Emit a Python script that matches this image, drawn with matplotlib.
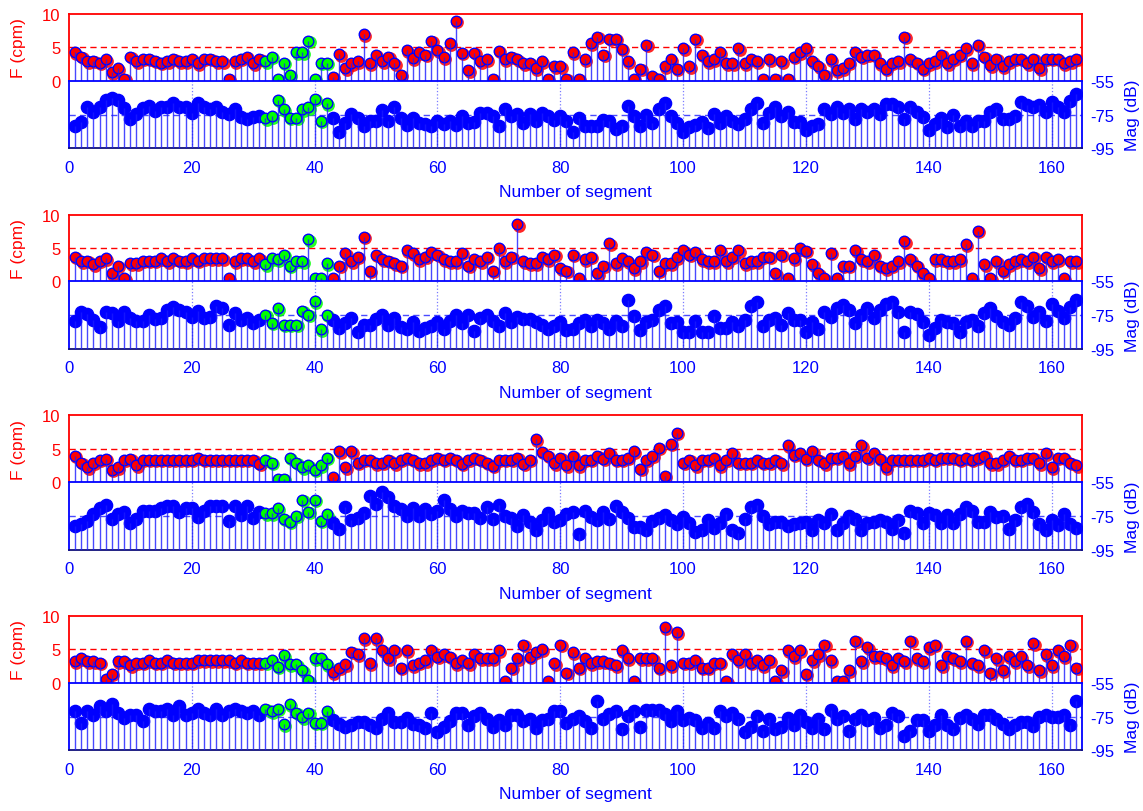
import numpy as np
import matplotlib.pyplot as plt
from matplotlib.transforms import offset_copy

plt.rcParams['font.family'] = ['Liberation Sans', 'DejaVu Sans']
plt.rcParams['axes.unicode_minus'] = False

seg = np.arange(1, 165)
green_from, green_to = 32, 42          # segments shown in green

f_ticks = [0, 5, 10]
mag_ticks = [-95, -75, -55]
seg_ticks = list(range(0, 161, 20))

# dominant frequency (cpm) and magnitude (dB) per segment, one pair per recording
f1 = [4.3, 3.6, 2.9, 3.0, 2.7, 3.2, 1.3, 1.9, 0.3, 3.6,
      2.9, 3.3, 3.3, 3.0, 2.7, 2.9, 3.3, 2.9, 2.9, 3.3,
      2.6, 3.3, 3.3, 2.9, 2.9, 0.3, 2.9, 3.3, 3.6, 2.6,
      3.3, 2.9, 3.6, 0.3, 2.7, 0.9, 4.3, 4.3, 6.0, 0.3,
      2.7, 2.7, 0.6, 4.0, 1.9, 2.6, 2.9, 7.0, 2.6, 3.9,
      2.9, 3.6, 2.6, 0.9, 4.6, 3.4, 4.3, 3.9, 6.0, 4.6,
      3.5, 5.6, 9.0, 4.2, 1.6, 4.2, 2.9, 3.2, 0.3, 4.5,
      3.2, 3.6, 3.2, 2.6, 2.7, 1.9, 2.9, 0.3, 2.2, 2.2,
      0.3, 4.3, 0.3, 3.2, 5.6, 6.6, 3.9, 6.3, 6.3, 4.8,
      2.9, 0.3, 1.8, 5.4, 0.7, 0.3, 2.2, 3.2, 1.8, 4.9,
      2.2, 6.3, 3.9, 2.9, 3.2, 4.3, 2.6, 2.6, 4.9, 2.6,
      3.3, 2.9, 0.3, 3.2, 0.3, 2.9, 0.3, 3.6, 4.3, 4.9,
      2.9, 2.2, 0.9, 3.2, 1.6, 1.9, 2.7, 4.3, 3.6, 3.9,
      3.9, 2.6, 1.8, 2.7, 2.9, 6.6, 3.2, 2.7, 1.8, 2.6,
      2.9, 3.9, 2.6, 3.3, 3.9, 4.9, 2.6, 5.4, 3.6, 2.3,
      3.3, 2.2, 2.9, 3.3, 3.3, 2.6, 3.3, 1.9, 3.3, 3.3,
      3.3, 2.6, 2.9, 3.3]
mag1 = [-81.5, -79.5, -70.8, -73.7, -70.3, -66.4, -65.4, -66.4, -71.2, -77.6,
        -74.7, -71.4, -69.9, -72.8, -70.8, -70.8, -68.3, -70.8, -70.8, -74.1,
        -68.0, -70.8, -71.8, -70.8, -73.2, -74.7, -71.8, -76.6, -77.6, -76.6,
        -76.1, -77.2, -76.0, -66.4, -71.8, -77.0, -77.0, -71.8, -70.8, -65.6,
        -78.8, -68.3, -77.2, -85.3, -80.0, -74.7, -77.0, -82.0, -79.0, -78.6,
        -72.2, -78.8, -70.8, -77.0, -81.0, -77.2, -79.9, -80.5, -82.0, -78.6,
        -80.5, -78.6, -81.1, -75.7, -79.9, -79.5, -74.3, -74.1, -75.7, -81.5,
        -71.8, -75.7, -74.7, -79.9, -74.7, -78.6, -74.1, -75.7, -78.0, -75.7,
        -78.6, -85.3, -77.0, -81.5, -81.5, -81.9, -78.0, -79.0, -83.4, -81.5,
        -69.9, -76.1, -81.5, -75.3, -79.9, -71.8, -68.3, -76.1, -79.9, -85.3,
        -82.4, -81.1, -79.5, -82.8, -74.7, -79.9, -76.1, -78.6, -80.5, -77.6,
        -71.8, -68.3, -79.9, -74.1, -70.8, -76.1, -73.4, -79.2, -79.2, -84.4,
        -81.9, -80.5, -71.8, -74.7, -70.8, -74.1, -71.8, -77.6, -71.8, -73.4,
        -71.8, -74.7, -68.9, -68.9, -70.8, -77.6, -70.8, -73.4, -76.6, -84.0,
        -80.5, -77.0, -82.4, -75.1, -81.5, -79.0, -81.5, -79.0, -79.0, -73.7,
        -71.8, -77.6, -77.6, -76.1, -67.6, -69.5, -70.8, -69.5, -73.7, -67.6,
        -70.8, -73.7, -67.0, -63.1]

f2 = [3.7, 3.0, 3.1, 2.6, 3.1, 3.5, 1.25, 2.35, 0.5, 2.7,
      2.7, 3.1, 3.1, 3.1, 3.5, 3.0, 3.5, 3.1, 3.0, 3.5,
      3.1, 3.5, 3.5, 3.5, 3.5, 0.5, 3.0, 3.5, 3.5, 3.0,
      3.5, 2.6, 3.5, 3.35, 4.0, 2.35, 3.1, 3.0, 6.35, 0.5,
      0.5, 2.7, 0.5, 2.35, 4.2, 3.0, 3.7, 6.7, 1.6, 4.0,
      3.35, 3.1, 2.75, 2.35, 4.7, 4.2, 3.35, 3.7, 4.35, 4.0,
      3.35, 3.0, 3.0, 4.3, 2.35, 3.35, 3.0, 3.7, 1.6, 5.0,
      3.0, 3.7, 8.6, 3.0, 2.7, 2.7, 3.7, 3.35, 4.0, 2.0,
      1.6, 4.0, 0.5, 3.35, 3.7, 1.25, 2.35, 5.7, 2.7, 3.5,
      3.0, 2.0, 3.0, 4.35, 4.0, 1.6, 2.7, 2.7, 3.6, 4.7,
      4.0, 4.35, 3.35, 3.0, 3.0, 4.7, 3.0, 3.7, 4.7, 2.7,
      3.0, 3.0, 3.7, 3.7, 1.25, 4.0, 0.5, 3.5, 5.0, 4.6,
      2.6, 1.25, 0.5, 4.3, 0.5, 2.35, 2.35, 4.7, 3.35, 3.0,
      4.0, 2.35, 2.0, 2.35, 3.0, 6.0, 3.35, 2.35, 1.25, 0.5,
      3.35, 3.35, 3.0, 3.0, 3.35, 5.6, 0.5, 7.6, 2.6, 0.5,
      3.0, 1.6, 2.6, 3.0, 3.35, 3.0, 3.7, 2.0, 3.7, 3.0,
      3.35, 0.5, 3.0, 3.0]
mag2 = [-78.4, -73.2, -74.4, -77.8, -81.9, -73.2, -73.8, -78.4, -73.2, -76.4,
        -78.4, -78.4, -74.8, -77.2, -76.4, -71.8, -70.4, -71.8, -73.2, -75.8,
        -72.4, -76.4, -75.8, -69.3, -70.8, -80.9, -73.8, -77.8, -76.4, -79.8,
        -77.8, -74.8, -79.4, -70.8, -80.5, -80.5, -80.5, -72.4, -74.8, -66.7,
        -83.3, -74.8, -77.8, -82.5, -79.8, -76.4, -84.9, -80.9, -80.5, -77.2,
        -74.8, -80.9, -76.4, -81.9, -83.3, -78.8, -84.5, -82.5, -81.3, -78.8,
        -83.3, -78.4, -74.8, -79.8, -74.8, -84.5, -76.8, -74.8, -78.4, -81.3,
        -73.8, -78.8, -75.8, -77.2, -77.2, -78.8, -80.5, -82.9, -81.3, -78.8,
        -83.9, -82.9, -79.8, -77.8, -81.3, -77.8, -79.8, -82.9, -78.4, -81.3,
        -65.7, -75.2, -83.9, -79.2, -77.8, -71.8, -69.7, -79.8, -78.8, -84.9,
        -84.9, -78.4, -84.9, -84.9, -75.2, -82.5, -82.5, -79.2, -81.3, -77.8,
        -69.7, -67.1, -81.3, -77.8, -76.4, -80.5, -73.8, -77.8, -77.8, -84.9,
        -79.2, -82.9, -72.8, -75.8, -70.8, -69.1, -71.8, -79.8, -74.8, -70.8,
        -76.8, -71.8, -68.3, -67.1, -72.8, -84.9, -73.2, -74.4, -78.8, -86.5,
        -82.5, -77.8, -78.8, -79.8, -84.9, -79.2, -77.8, -81.3, -73.8, -70.8,
        -75.2, -78.8, -80.5, -76.4, -67.1, -69.7, -75.8, -72.8, -78.4, -68.3,
        -72.4, -76.8, -70.4, -65.7]

f3 = [3.9, 2.9, 2.2, 2.9, 3.3, 3.5, 1.85, 2.2, 3.3, 3.5,
      2.5, 3.3, 3.3, 3.3, 3.3, 3.3, 3.3, 3.3, 3.3, 3.3,
      3.6, 3.3, 3.3, 3.3, 3.3, 3.3, 3.3, 3.3, 3.3, 3.3,
      2.7, 3.3, 2.9, 0.5, 0.5, 3.6, 2.9, 2.2, 2.5, 1.85,
      2.5, 3.6, 0.7, 4.6, 2.2, 4.6, 2.9, 3.3, 3.3, 2.8,
      2.9, 3.3, 2.8, 3.3, 3.6, 3.3, 2.8, 2.8, 3.3, 3.6,
      3.3, 3.6, 3.3, 2.7, 3.3, 3.6, 3.3, 2.9, 2.4, 3.3,
      3.3, 3.3, 3.6, 2.7, 3.3, 6.4, 4.5, 3.9, 2.8, 3.6,
      2.5, 3.9, 2.5, 3.3, 3.3, 3.9, 3.5, 4.3, 3.3, 3.3,
      3.6, 4.6, 1.95, 3.3, 3.9, 5.1, 0.9, 5.75, 7.4, 2.9,
      3.3, 2.5, 3.3, 3.3, 3.6, 2.5, 3.3, 4.3, 2.9, 2.9,
      2.9, 3.3, 2.9, 2.9, 3.3, 2.8, 5.5, 4.1, 4.3, 3.5,
      4.6, 3.3, 2.8, 3.6, 3.6, 3.9, 2.8, 3.9, 5.5, 3.6,
      4.3, 3.5, 2.2, 3.3, 3.3, 3.3, 3.3, 3.3, 3.3, 3.6,
      3.3, 3.6, 3.6, 3.6, 3.3, 3.6, 3.3, 3.6, 3.9, 2.8,
      2.8, 3.3, 3.9, 3.3, 3.3, 3.6, 3.6, 2.8, 4.3, 2.2,
      3.6, 3.6, 2.9, 2.5]
mag3 = [-81.0, -80.0, -78.0, -74.0, -70.6, -68.6, -76.6, -74.0, -72.6, -79.4,
        -76.6, -72.0, -72.0, -72.0, -70.6, -69.0, -69.0, -73.0, -70.6, -70.6,
        -75.4, -72.0, -69.0, -69.0, -69.0, -78.0, -69.0, -74.6, -69.0, -76.0,
        -73.0, -73.4, -73.4, -70.6, -76.6, -78.6, -75.0, -65.4, -72.6, -65.4,
        -78.0, -74.0, -79.4, -82.6, -70.0, -77.4, -76.0, -73.4, -63.0, -68.0,
        -61.0, -64.0, -69.0, -71.0, -75.0, -70.6, -75.0, -71.0, -74.0, -72.0,
        -65.4, -71.0, -75.0, -72.0, -73.4, -73.4, -76.0, -70.0, -77.0, -68.6,
        -75.0, -76.0, -81.0, -74.6, -78.6, -83.4, -77.4, -73.4, -78.6, -77.4,
        -74.0, -73.0, -86.0, -72.0, -75.4, -77.4, -72.6, -77.0, -69.4, -73.0,
        -76.0, -81.4, -81.4, -83.4, -78.0, -76.0, -74.6, -77.4, -80.0, -75.4,
        -79.0, -84.6, -83.4, -77.4, -82.0, -79.0, -74.0, -83.4, -85.0, -76.6,
        -70.0, -68.6, -75.0, -80.0, -78.6, -78.6, -81.0, -80.0, -79.0, -78.6,
        -83.4, -77.4, -79.0, -74.0, -83.4, -79.0, -75.0, -76.6, -83.4, -79.0,
        -78.6, -77.4, -78.6, -82.6, -77.4, -85.0, -72.0, -73.4, -79.0, -73.4,
        -74.6, -79.0, -74.6, -79.0, -74.0, -70.0, -72.0, -78.6, -78.6, -73.0,
        -75.4, -75.0, -82.6, -77.4, -70.0, -68.0, -73.0, -80.0, -83.4, -77.4,
        -80.6, -74.0, -80.0, -82.0]

f4 = [3.25, 3.65, 3.25, 3.25, 3.0, 0.6, 1.35, 3.25, 3.25, 2.65,
      3.0, 3.0, 3.35, 3.0, 3.0, 3.35, 3.0, 3.0, 3.0, 3.0,
      3.35, 3.35, 3.35, 3.35, 3.35, 3.35, 3.0, 3.35, 3.0, 3.0,
      3.0, 3.0, 3.35, 2.4, 4.15, 2.75, 2.75, 1.9, 0.35, 3.65,
      3.65, 2.75, 1.6, 2.25, 2.75, 4.65, 4.3, 6.7, 2.9, 6.7,
      4.9, 3.65, 4.9, 2.25, 4.9, 2.65, 3.0, 3.35, 4.9, 3.9,
      4.3, 3.9, 2.9, 3.35, 2.9, 4.3, 3.65, 3.65, 3.65, 4.9,
      0.25, 2.25, 3.65, 5.7, 3.9, 4.65, 5.0, 0.25, 2.9, 5.7,
      1.5, 4.55, 2.25, 3.65, 2.9, 3.25, 3.25, 3.0, 2.65, 4.9,
      3.65, 0.25, 3.65, 3.65, 3.65, 2.25, 8.3, 2.65, 7.6, 3.0,
      3.0, 3.35, 2.25, 2.25, 3.0, 3.0, 0.25, 4.3, 3.35, 4.3,
      3.0, 3.35, 2.65, 3.35, 0.25, 1.9, 4.9, 4.0, 4.9, 1.35,
      3.35, 4.3, 5.7, 3.35, 0.25, 0.25, 1.9, 6.3, 3.25, 5.3,
      4.0, 4.0, 3.65, 2.65, 3.65, 3.25, 6.3, 3.65, 3.25, 5.3,
      5.7, 2.65, 4.0, 3.65, 3.25, 6.3, 3.0, 2.65, 4.9, 1.5,
      3.65, 1.9, 4.0, 3.25, 4.0, 2.65, 5.9, 1.9, 4.3, 2.65,
      4.9, 4.0, 5.7, 2.25]
mag4 = [-71.9, -78.7, -71.5, -73.8, -69.0, -71.5, -67.7, -72.9, -75.8, -74.2,
        -74.2, -77.7, -70.4, -71.5, -71.5, -70.4, -73.8, -69.0, -73.8, -72.9,
        -70.4, -72.9, -74.2, -70.4, -74.2, -71.9, -70.4, -71.5, -72.9, -71.5,
        -73.8, -70.4, -71.9, -70.4, -79.6, -67.7, -72.9, -75.4, -72.9, -78.7,
        -78.7, -71.9, -77.3, -79.2, -81.2, -80.0, -78.1, -78.1, -80.0, -81.5,
        -76.2, -72.9, -78.1, -78.1, -75.8, -79.6, -80.0, -81.9, -72.9, -84.4,
        -81.2, -77.7, -72.9, -72.9, -80.0, -74.8, -72.9, -76.2, -81.2, -77.3,
        -80.0, -73.8, -74.2, -77.7, -76.7, -81.9, -77.3, -76.7, -71.5, -71.5,
        -78.7, -76.2, -74.8, -77.7, -81.9, -65.8, -76.2, -73.5, -71.9, -82.5,
        -74.8, -71.9, -81.2, -71.0, -71.0, -71.0, -73.5, -77.7, -71.9, -77.3,
        -75.8, -77.3, -81.9, -78.7, -81.9, -71.9, -74.8, -72.9, -76.2, -84.4,
        -81.2, -74.8, -83.8, -76.2, -82.5, -81.2, -75.8, -80.0, -73.8, -78.1,
        -81.9, -76.2, -82.5, -71.0, -76.7, -74.8, -83.8, -76.2, -74.2, -77.3,
        -75.8, -81.9, -80.0, -72.9, -74.8, -86.3, -83.8, -77.3, -77.3, -83.8,
        -80.0, -73.8, -80.0, -82.5, -75.8, -74.2, -76.2, -79.2, -73.8, -73.8,
        -76.7, -79.6, -82.5, -80.0, -78.1, -78.1, -80.6, -75.4, -74.2, -75.4,
        -75.4, -74.2, -80.0, -65.8]

W, H = 1143, 812
x_left, x_width = 68.8, 1013.6          # pixels
panel_tops = [15, 215.7, 416.3, 617]
h_f, h_mag = 66.7, 67.7

RED, BLUE, GREEN = '#ff0000', '#0000ff', '#00ff00'
STEM = '#1a1aff'


def add_px_axes(fig, top, height):
    return fig.add_axes([x_left / W, 1 - (top + height) / H, x_width / W, height / H])


def dots(ax, fig, x, y, face):
    # filled disc shifted down-right, ringed marker on top of it
    shifted = offset_copy(ax.transData, fig=fig, x=1.5, y=-1.5, units='dots')
    ax.plot(x, y, 'o', ms=9.2, mfc=face, mec='none', alpha=0.85,
            transform=shifted, zorder=2)
    ax.plot(x, y, 'o', ms=7.6, mfc=face, mec=BLUE, mew=1.0, zorder=3)


def draw_panel(fig, top, f, mag):
    f = np.array(f)
    mag = np.array(mag)
    green = (seg >= green_from) & (seg <= green_to)

    # frequency
    ax = add_px_axes(fig, top, h_f)
    ax.set_xlim(0, 165)
    ax.set_ylim(0, 10)
    ax.axhline(5, color=RED, ls=(0, (4.5, 3)), lw=1.0, zorder=1)
    dots(ax, fig, seg[~green], f[~green], RED)
    dots(ax, fig, seg[green], f[green], GREEN)
    ax.vlines(seg, 0, f, colors=STEM, lw=1.0, alpha=0.8, zorder=4)
    ax.set_xticks([])
    ax.set_yticks(f_ticks)
    ax.tick_params(axis='y', colors=RED, length=0, pad=6, labelsize=12)
    for s in ['left', 'right', 'top']:
        ax.spines[s].set_color(RED)
        ax.spines[s].set_linewidth(1.3)
    ax.spines['bottom'].set_visible(False)
    fig.text(18 / W, 1 - (top + h_f / 2) / H, 'F (cpm)', color=RED, fontsize=12.5,
             rotation=90, ha='center', va='center')

    # magnitude
    bx = add_px_axes(fig, top + h_f, h_mag)
    bx.set_xlim(0, 165)
    bx.set_ylim(-95, -55)
    bx.axhline(-75, color='#4a4aff', ls=(0, (4.5, 3)), lw=1.0, zorder=1)
    bx.vlines(seg_ticks[1:], -95, -55, colors='#7a7aff', linestyles=':', lw=0.9, zorder=1)
    bx.plot(seg[~green], mag[~green], 'o', ms=8.8, mfc=BLUE, mec=BLUE, mew=1.0, zorder=3)
    dots(bx, fig, seg[green], mag[green], GREEN)
    bx.vlines(seg, -95, mag, colors=STEM, lw=1.0, alpha=0.8, zorder=4)
    bx.yaxis.tick_right()
    bx.set_yticks(mag_ticks)
    bx.set_xticks(seg_ticks)
    bx.tick_params(axis='y', colors=BLUE, length=0, pad=6, labelsize=12)
    bx.tick_params(axis='x', colors=BLUE, length=0, pad=8, labelsize=12)
    for s in ['left', 'right', 'top']:
        bx.spines[s].set_color(BLUE)
        bx.spines[s].set_linewidth(1.3)
    bx.spines['bottom'].set_color('#10107a')
    bx.spines['bottom'].set_linewidth(1.3)
    bx.set_xlabel('Number of segment', color=BLUE, fontsize=12.5, labelpad=7)
    fig.text(1133 / W, 1 - (top + h_f + h_mag / 2) / H, 'Mag (dB)', color=BLUE,
             fontsize=12.5, rotation=90, ha='center', va='center')


fig = plt.figure(figsize=(W / 100, H / 100), dpi=100)
for top, f, mag in zip(panel_tops, [f1, f2, f3, f4], [mag1, mag2, mag3, mag4]):
    draw_panel(fig, top, f, mag)

fig.savefig('out.png', dpi=100)
